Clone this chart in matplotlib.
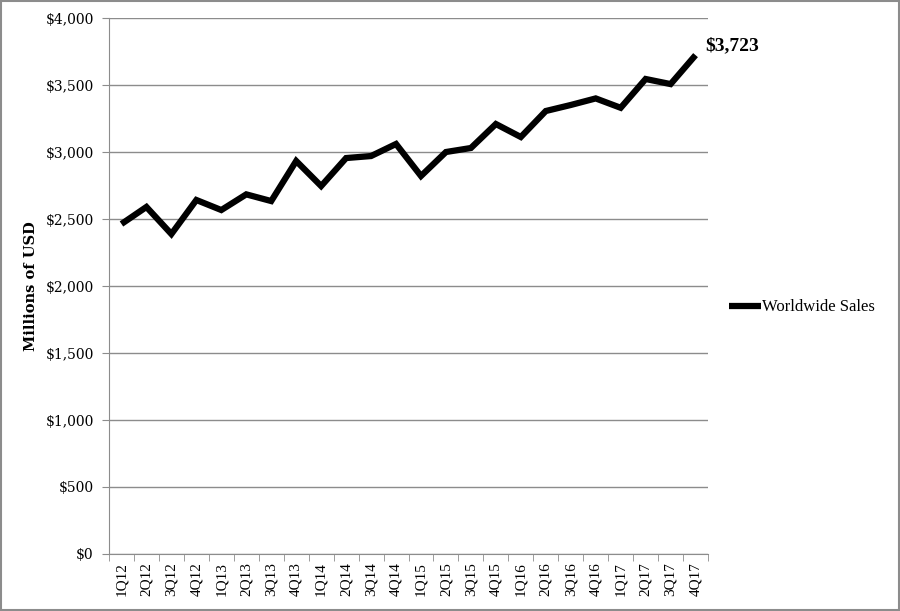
import matplotlib
matplotlib.use("Agg")
import matplotlib.pyplot as plt
import matplotlib.ticker as mticker
import numpy as np

# quarterly worldwide sales, millions of USD
quarters = ['1Q12', '2Q12', '3Q12', '4Q12', '1Q13', '2Q13', '3Q13', '4Q13',
            '1Q14', '2Q14', '3Q14', '4Q14', '1Q15', '2Q15', '3Q15', '4Q15',
            '1Q16', '2Q16', '3Q16', '4Q16', '1Q17', '2Q17', '3Q17', '4Q17']
sales = [2463, 2590, 2388, 2642, 2567, 2684, 2634, 2933,
         2746, 2955, 2970, 3060, 2821, 3000, 3030, 3209,
         3112, 3306, 3351, 3400, 3330, 3545, 3507, 3723]
yticks = [0, 500, 1000, 1500, 2000, 2500, 3000, 3500, 4000]

plt.rcParams['font.family'] = ['Liberation Serif', 'DejaVu Serif']

fig = plt.figure(figsize=(9, 6.11), dpi=100)
ax = fig.add_axes([0.1211, 0.0933, 0.6656, 0.8772])

x = np.arange(len(quarters))
ax.plot(x, sales, color='black', linewidth=4.5, solid_joinstyle='miter',
        solid_capstyle='butt', label='Worldwide Sales', zorder=3)

ax.set_xlim(-0.5, len(quarters) - 0.5)
ax.set_ylim(0, 4000)
ax.set_yticks(yticks)
ax.yaxis.set_major_formatter(mticker.FuncFormatter(lambda v, p: '${:,.0f}'.format(v)))
ax.grid(axis='y', color='#8c8c8c', linewidth=1)
ax.set_axisbelow(True)

ax.set_xticks(x)
ax.set_xticklabels(quarters, rotation=90)
ax.set_xticks(np.arange(len(quarters) + 1) - 0.5, minor=True)
ax.tick_params(axis='x', which='major', length=0, pad=6, labelsize=11)
ax.tick_params(axis='x', which='minor', length=5, color='#8c8c8c', direction='out')
ax.tick_params(axis='y', length=5, color='#8c8c8c', pad=6)
for lbl in ax.get_yticklabels():
    lbl.set_family('DejaVu Serif')
    lbl.set_fontsize(10)

for s in ['top', 'right']:
    ax.spines[s].set_visible(False)
for s in ['left', 'bottom']:
    ax.spines[s].set_color('#8c8c8c')

ax.set_ylabel('Millions of USD', fontsize=10.5, fontweight='bold', family='DejaVu Serif', labelpad=5)

ax.annotate('${:,}'.format(sales[-1]), xy=(x[-1], sales[-1]), xytext=(7, 7),
            textcoords='offset points', fontsize=14, fontweight='bold', ha='left', va='center')

ax.legend(loc='center left', bbox_to_anchor=(1.01, 0.46), frameon=False,
          prop={'size': 12}, handlelength=1.9, handletextpad=0.1)

fig.patches.append(plt.Rectangle((0.001, 0.001), 0.998, 0.998, transform=fig.transFigure,
                                 fill=False, edgecolor='#8c8c8c', linewidth=1.5))

plt.savefig('out.png', dpi=100)
